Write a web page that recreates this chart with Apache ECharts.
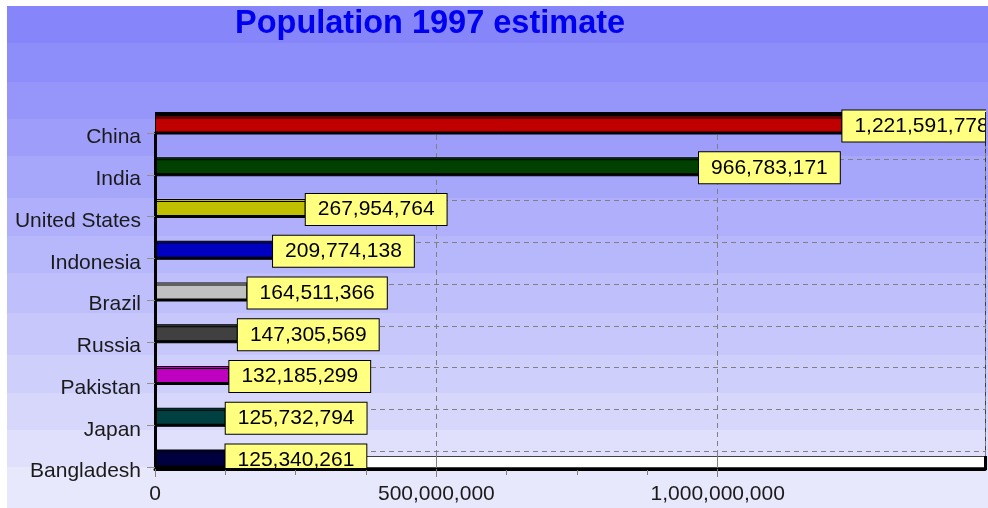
<!DOCTYPE html>
<html><head><meta charset="utf-8">
<script src="https://cdn.jsdelivr.net/npm/echarts@6/dist/echarts.min.js"></script>
<style>html,body{margin:0;padding:0;background:#fff;width:988px;height:508px;overflow:hidden}
#main{position:absolute;left:7px;top:6px;width:981px;height:502px}</style></head>
<body><div id="main"></div>
<script>
const categories = ['China','India','United States','Indonesia','Brazil','Russia','Pakistan','Japan','Bangladesh'];
const population = [1221591778, 966783171, 267954764, 209774138, 164511366, 147305569, 132185299, 125732794, 125340261];
const barColors = ['#c00000','#004000','#c0c000','#0000c0','#c0c0c0','#404040','#c000c0','#004040','#000040'];
const xMax = 1475000000;
const xMajorTicks = [0, 500000000, 1000000000];
const xMinorTicks = [125000000, 250000000, 375000000, 625000000, 750000000, 875000000];
const bandEdges = [0, 37, 76, 113, 150, 192, 230, 267, 307, 349, 387, 424, 461, 502];
const bandColors = ['#8686fa','#8e8efa','#9696fa','#9e9efa','#a6a6fb','#afaffb','#b7b7fb','#bfbffb','#c7c7fb','#cfcffc','#d7d7fc','#e0e0fc','#e8e8fc'];

const FONT = 'Liberation Sans';
const fmt = v => Number(v).toLocaleString('en-US');
const H = 502;
const stops = [];
bandColors.forEach((c, i) => {
  stops.push({offset: bandEdges[i] / H, color: c});
  stops.push({offset: bandEdges[i + 1] / H, color: c});
});

const chart = echarts.init(document.getElementById('main'), null, {renderer: 'canvas'});
const option = {
  animation: false,
  backgroundColor: new echarts.graphic.LinearGradient(0, 0, 0, 1, stops),
  title: {
    text: 'Population 1997 estimate', left: 228, top: 2, padding: 0,
    textStyle: {fontFamily: FONT, fontSize: 32.5, fontWeight: 'bold', color: '#0000f0'}
  },
  grid: [
    {left: 148, right: 3, top: 127, bottom: 41},
    {left: 148, right: 3, top: 111, bottom: 57},
    {left: 148, right: 3, top: 118, bottom: 50},
    {left: 148, right: 3, top: 131.5, bottom: 36.5}
  ],
  xAxis: [
    {gridIndex: 0, type: 'value', min: 0, max: xMax, position: 'bottom', offset: 2, z: 20,
     axisLine: {show: true, lineStyle: {color: '#000', width: 3}},
     axisTick: {show: true, length: 8, customValues: xMajorTicks, lineStyle: {color: '#808080', width: 1}},
     axisLabel: {customValues: xMajorTicks, formatter: fmt, margin: 15, fontFamily: FONT, fontSize: 21, color: '#1a1a1a'},
     splitLine: {show: false}},
    {gridIndex: 1, type: 'value', min: 0, max: xMax, interval: 500000000, z: 1,
     axisLine: {show: false},
     axisTick: {show: true, length: 19, lineStyle: {color: '#808080'}},
     axisLabel: {show: false},
     splitLine: {show: true, lineStyle: {color: '#808080', type: [5, 4], width: 1}}},
    {gridIndex: 2, type: 'value', min: 0, max: xMax, offset: 12, z: 20,
     axisLine: {show: false},
     axisTick: {show: true, length: 5, customValues: xMinorTicks, lineStyle: {color: '#808080'}},
     axisLabel: {show: false},
     splitLine: {show: false}},
    {gridIndex: 3, type: 'value', min: 0, max: xMax, show: false}
  ],
  yAxis: [
    {gridIndex: 0, type: 'category', data: categories, inverse: true, boundaryGap: false, z: 20,
     axisLine: {show: true, lineStyle: {color: '#000', width: 3}},
     axisTick: {show: true, length: 8, lineStyle: {color: '#909090'}},
     axisLabel: {show: false},
     splitLine: {show: false}},
    {gridIndex: 1, type: 'category', data: categories, inverse: true, boundaryGap: false,
     axisLine: {show: false}, axisTick: {show: false}, axisLabel: {show: false},
     splitLine: {show: true, interval: 0, lineStyle: {color: '#808080', type: [5, 4], width: 1}}},
    {gridIndex: 2, type: 'category', data: categories, inverse: true, boundaryGap: false, show: false},
    {gridIndex: 3, type: 'category', data: categories, inverse: true, boundaryGap: false, z: 20,
     axisLine: {show: false}, axisTick: {show: false}, splitLine: {show: false},
     axisLabel: {interval: 0, margin: 14, fontFamily: FONT, fontSize: 21, color: '#1a1a1a'}}
  ],
  graphic: [
    {type: 'rect', z: 0, shape: {x: 148, y: 106, width: 830, height: 6}, style: {fill: '#000'}},
    {type: 'line', z: 0, shape: {x1: 978.5, y1: 106, x2: 978.5, y2: 462}, style: {stroke: '#404040', lineWidth: 1}},
    {type: 'rect', z: 0, shape: {x: 148, y: 450.5, width: 830, height: 11}, style: {fill: '#fff', stroke: '#404040', lineWidth: 1}},
    {type: 'rect', z: 15, shape: {x: 977, y: 450, width: 3, height: 14}, style: {fill: '#000'}},
    {type: 'rect', z: 10, shape: {x: 148, y: 464, width: 830, height: 8}, style: {fill: bandColors[12]}},
    {type: 'rect', z: 15, shape: {x: 979, y: 100, width: 3, height: 13}, style: {fill: bandColors[2]}},
    {type: 'rect', z: 15, shape: {x: 979, y: 113, width: 3, height: 37}, style: {fill: bandColors[3]}},
    {type: 'line', z: 15, shape: {x1: 978.5, y1: 106, x2: 978.5, y2: 140}, style: {stroke: '#202020', lineWidth: 1}}
  ],
  series: [{
    type: 'bar', xAxisIndex: 2, yAxisIndex: 2, barWidth: 17, clip: false,
    data: population.map((v, i) => ({value: v, itemStyle: {color: barColors[i]}})),
    itemStyle: {borderColor: '#000', borderWidth: 1, shadowColor: '#000', shadowOffsetY: 2, shadowBlur: 0},
    label: {show: true, position: 'right', distance: 0, offset: [0, 2], formatter: p => fmt(p.value),
      fontFamily: FONT, fontSize: 21, color: '#000', backgroundColor: '#ffff80',
      borderColor: '#000', borderWidth: 1, padding: [5, 12, 5, 12]},
    emphasis: {disabled: true}
  }]
};
chart.setOption(option);
</script></body></html>
